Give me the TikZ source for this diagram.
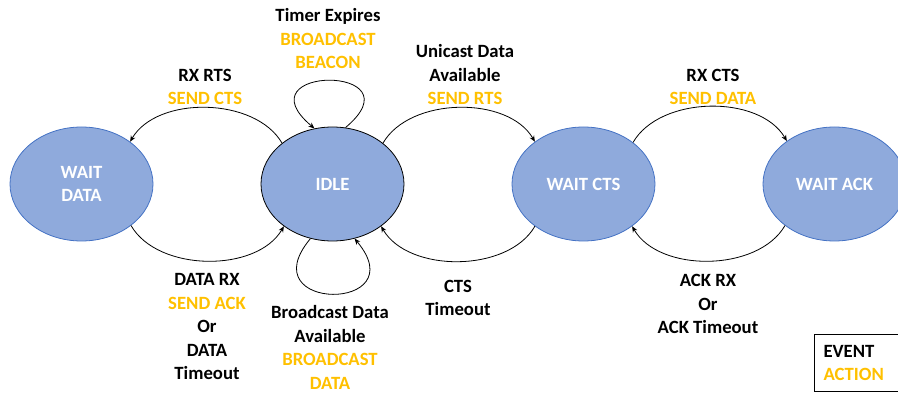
\documentclass[tikz,border=0pt]{standalone}
\usepackage{fontspec}
\setmainfont{Carlito}
\usepackage{xcolor}
\usetikzlibrary{shapes.geometric,arrows.meta}
\definecolor{stfill}{HTML}{8FAADC}
\definecolor{stline}{HTML}{4472C4}
\definecolor{actcol}{HTML}{FFC000}
\newcommand{\act}[1]{{\color{actcol}#1}}

\begin{document}
\begin{tikzpicture}[x=1pt,y=1pt,
  state/.style={ellipse,fill=stfill,draw=stline,line width=0.8pt,minimum width=143pt,minimum height=114pt,inner sep=0pt,text=white,align=center,font=\bfseries\fontsize{18.7}{23.5}\selectfont},
  lbl/.style={align=center,font=\bfseries\fontsize{18.7}{23.5}\selectfont},
  trans/.style={-{Stealth[length=6pt,width=5pt]},line width=0.8pt,looseness=0.9}]
\def\gap{251};
\useasboundingbox (0,0) rectangle (898,-395);

%states%
\node[state] (wdata) at (81.5,-184) {WAIT\\DATA};
\node[state,draw=black] (idle) at (81.5+\gap,-184) {IDLE};
\node[state] (wcts) at (81.5+2*\gap,-184) {WAIT CTS};
\node[state] (wack) at (81.5+3*\gap,-184) {WAIT ACK};

%transitions between states%
\draw[trans] (idle.141) to[out=120,in=60] (wdata.41);
\draw[trans] (wdata.-40) to[out=-60,in=-120] (idle.-139);
\draw[trans] (idle.39) to[out=60,in=120] (wcts.139);
\draw[trans] (wcts.-139) to[out=-120,in=-60] (idle.-41);
\draw[trans] (wcts.40) to[out=60,in=120] (wack.138);
\draw[trans] (wack.-140) to[out=-120,in=-60] (wcts.-41);

% self loops on IDLE%
\draw[trans] (idle.77) to[out=40,in=140,looseness=8.1] (idle.108);
\draw[trans] (idle.248) to[out=-130,in=-50,looseness=5.6] (idle.292);

%event and action labels%
\node[lbl] (lrts) at (205,-87) {RX RTS\\\act{SEND CTS}};
\node[lbl] (ltimer) at (328,-39) {Timer Expires\\\act{BROADCAST}\\\act{BEACON}};
\node[lbl] (luni) at (465,-75) {Unicast Data\\Available\\\act{SEND RTS}};
\node[lbl] (lrxcts) at (713,-87) {RX CTS\\\act{SEND DATA}};
\node[lbl] (ldata) at (207,-327) {DATA RX\\\act{SEND ACK}\\Or\\DATA\\Timeout};
\node[lbl] (lbcast) at (330,-347.5) {Broadcast Data\\Available\\\act{BROADCAST}\\\act{DATA}};
\node[lbl] (lcts) at (458,-298) {CTS\\Timeout};
\node[lbl] (lack) at (708,-304) {ACK RX\\Or\\ACK Timeout};

%legend%
\node[lbl,draw,line width=1.1pt,align=left,anchor=north west,minimum height=57pt,text width=70pt,inner xsep=9pt] (legend) at (814,-334) {EVENT\\\act{ACTION}};
\end{tikzpicture}
\end{document}
